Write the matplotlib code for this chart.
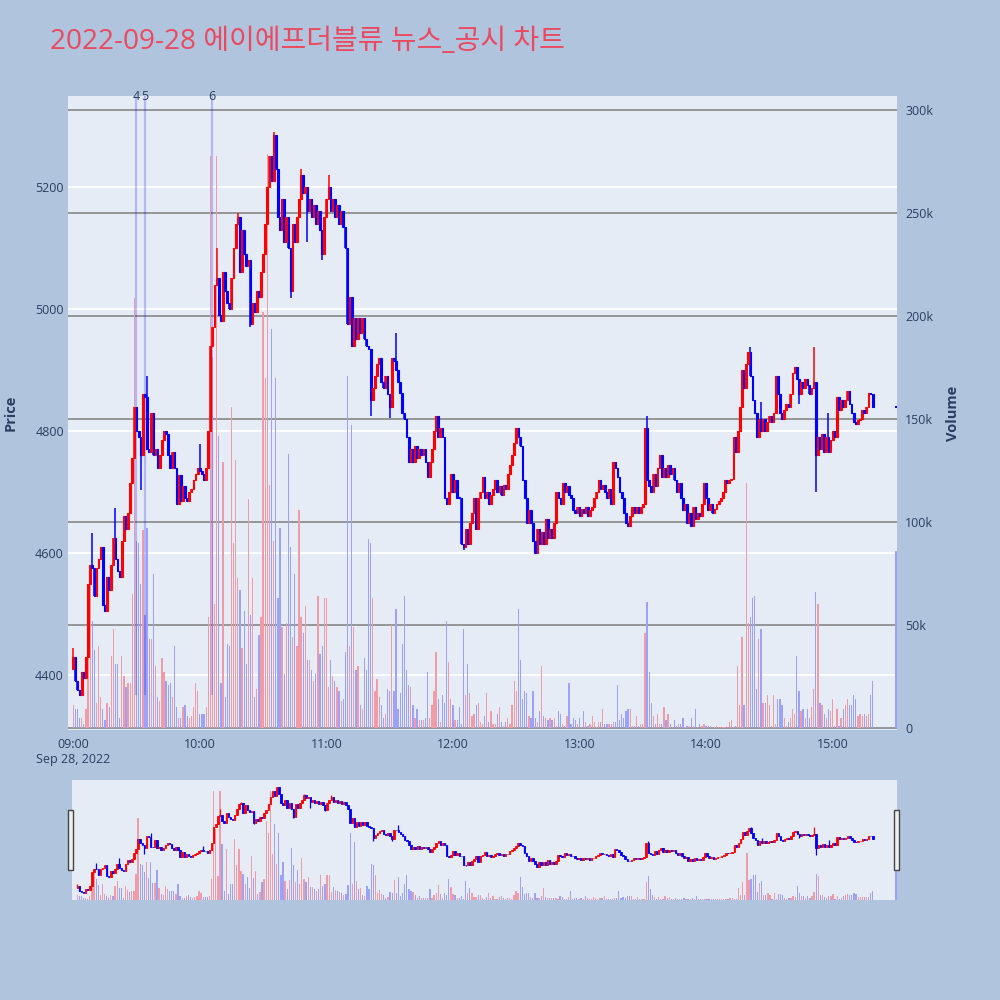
import matplotlib
matplotlib.use("Agg")
import matplotlib.pyplot as plt
import matplotlib.transforms as mtransforms
from matplotlib.patches import Rectangle
import numpy as np

# chart text
title = "2022-09-28 에이에프더블류 뉴스_공시 차트"

# one-minute candles from 09:00 (close of each minute, open = previous close)
first_open = 4410
close = [
    4430, 4390, 4375, 4368, 4405, 4395, 4430, 4550, 4580, 4575,
    4530, 4575, 4590, 4610, 4515, 4505, 4560, 4540, 4580, 4625,
    4590, 4570, 4560, 4620, 4660, 4640, 4665, 4715, 4755, 4840,
    4800, 4790, 4760, 4860, 4855, 4770, 4765, 4830, 4760, 4770,
    4740, 4760, 4785, 4800, 4795, 4760, 4740, 4765, 4740, 4680,
    4728, 4685, 4710, 4690, 4685, 4700, 4705, 4720, 4730, 4740,
    4735, 4730, 4720, 4740, 4800, 4940, 4970, 5040, 5050, 4990,
    4980, 5060, 5030, 5010, 5000, 5050, 5100, 5140, 5150, 5060,
    5130, 5090, 5070, 5080, 4975, 5010, 4995, 5030, 5020, 5060,
    5090, 5140, 5200, 5250, 5210, 5285, 5230, 5150, 5130, 5180,
    5110, 5150, 5100, 5030, 5140, 5110, 5150, 5180, 5220, 5190,
    5200, 5160, 5180, 5150, 5170, 5140, 5160, 5130, 5090, 5150,
    5180, 5200, 5160, 5180, 5150, 5170, 5140, 5160, 5135, 5100,
    4975, 5020, 4940, 4985, 4950, 4985, 4960, 4985, 4950, 4940,
    4935, 4850, 4870, 4890, 4910, 4920, 4880, 4870, 4890, 4860,
    4840, 4920, 4915, 4900, 4880, 4862, 4830, 4820, 4790, 4750,
    4770, 4750, 4775, 4755, 4770, 4760, 4770, 4750, 4725, 4750,
    4770, 4800, 4825, 4790, 4805, 4790, 4690, 4680, 4700, 4730,
    4700, 4720, 4690, 4690, 4615, 4610, 4640, 4615, 4650, 4665,
    4690, 4640, 4690, 4700, 4725, 4690, 4700, 4680, 4695, 4705,
    4720, 4700, 4710, 4695, 4712, 4705, 4730, 4745, 4760, 4780,
    4805, 4790, 4775, 4720, 4690, 4650, 4670, 4650, 4620, 4600,
    4640, 4615, 4635, 4615, 4655, 4625, 4640, 4625, 4650, 4700,
    4690, 4680, 4715, 4700, 4710, 4695, 4690, 4670, 4665, 4675,
    4660, 4672, 4665, 4676, 4660, 4670, 4675, 4690, 4700, 4720,
    4705, 4712, 4700, 4690, 4705, 4680, 4750, 4740, 4725, 4700,
    4690, 4665, 4650, 4645, 4660, 4675, 4665, 4675, 4665, 4675,
    4680, 4805, 4720, 4710, 4700, 4730, 4710, 4740, 4760, 4725,
    4740, 4725, 4745, 4730, 4740, 4720, 4700, 4715, 4690, 4670,
    4680, 4650, 4665, 4645, 4675, 4655, 4665, 4660, 4680, 4715,
    4690, 4670, 4680, 4665, 4672, 4680, 4685, 4690, 4700, 4720,
    4715, 4720, 4722, 4790, 4765, 4800, 4840, 4900, 4870, 4910,
    4930, 4890, 4850, 4830, 4790, 4820, 4800, 4820, 4800, 4815,
    4825, 4815, 4830, 4890, 4860, 4830, 4820, 4835, 4845, 4840,
    4860, 4895, 4905, 4885, 4860, 4880, 4870, 4885, 4875, 4860,
    4870, 4880, 4760, 4790, 4770, 4795, 4765, 4790, 4765, 4785,
    4800, 4790, 4855, 4835, 4850, 4840, 4850, 4865, 4845, 4830,
    4815, 4812, 4818, 4820, 4835, 4830, 4840, 4862, 4860, 4840,
]

# wicks that reach beyond the bodies (minute index: price)
spike_high = {0: 4445, 9: 4633, 20: 4674, 35: 4890, 60: 4778, 68: 5100, 78: 5157,
              95: 5290, 108: 5230, 121: 5220, 153: 4960, 272: 4825, 321: 4938,
              326: 4848, 351: 4938, 358: 4829}
spike_low = {32: 4704, 84: 4970, 103: 5018, 111: 5110, 118: 5080, 141: 4824,
             150: 4822, 185: 4605, 344: 4845, 352: 4700}

# volume per minute, thousands of shares
volume_k = [
    11, 9, 9, 5, 5, 2, 9, 39, 79, 52,
    38, 12, 40, 15, 9, 4, 12, 10, 35, 48,
    31, 31, 5, 35, 25, 20, 22, 22, 65, 209,
    91, 90, 70, 96, 55, 97, 43, 43, 75, 30,
    15, 13, 34, 27, 23, 21, 22, 15, 40, 10,
    5, 5, 10, 11, 6, 5, 6, 10, 22, 18,
    7, 7, 7, 10, 54, 278, 180, 60, 278, 142,
    22, 129, 15, 41, 40, 156, 90, 130, 73, 67,
    39, 57, 31, 111, 55, 73, 15, 19, 45, 54,
    202, 170, 279, 118, 194, 91, 170, 63, 97, 49,
    26, 51, 133, 88, 44, 75, 40, 106, 54, 46,
    59, 33, 33, 28, 23, 26, 64, 36, 40, 63,
    63, 20, 33, 25, 23, 20, 18, 13, 14, 37,
    171, 40, 147, 49, 28, 30, 11, 9, 34, 28,
    92, 90, 63, 18, 24, 15, 11, 5, 7, 19,
    18, 50, 18, 58, 9, 17, 41, 64, 28, 21,
    20, 11, 5, 9, 4, 4, 4, 5, 27, 5,
    11, 18, 37, 14, 3, 16, 12, 52, 32, 14,
    11, 4, 4, 10, 2, 48, 16, 31, 17, 6,
    7, 11, 12, 3, 2, 6, 17, 3, 8, 2,
    2, 7, 10, 3, 1, 3, 5, 2, 11, 23,
    18, 58, 33, 14, 18, 17, 6, 5, 18, 5,
    3, 8, 30, 6, 5, 4, 5, 4, 5, 1,
    8, 7, 2, 1, 6, 22, 2, 5, 4, 2,
    5, 0.5, 8, 3, 1, 2, 6, 3, 0.5, 3,
    3, 9, 2, 2, 2, 2, 3, 3, 21, 4,
    7, 5, 8, 9, 9, 1, 1, 6, 1, 2,
    2, 46, 61, 27, 12, 6, 2, 7, 2, 2,
    10, 4, 7, 2, 0.5, 4, 1, 2, 2, 5,
    0.5, 1, 1, 5, 1, 9, 0.5, 2, 1, 2,
    1, 1, 1, 0.5, 0.5, 1, 0.5, 0.5, 0.5, 0.5,
    0.5, 3, 4, 0.5, 1, 30, 11, 44, 11, 119,
    51, 54, 63, 64, 19, 43, 48, 12, 12, 16,
    11, 1, 16, 2, 14, 14, 11, 5, 1, 3,
    5, 9, 7, 35, 18, 8, 9, 5, 9, 5,
    10, 19, 66, 60, 12, 11, 7, 5, 9, 8,
    14, 1, 9, 1, 5, 9, 11, 14, 11, 11,
    16, 14, 6, 7, 6, 7, 6, 7, 16, 23,
]

# closing auction at 15:30
auction_minute = 390
auction_price = 4840
auction_volume_k = 86

# news markers
news_minutes = [29.7, 33.9, 65.7]
news_labels = ["4", "5", "6"]

tick_minutes = [0, 60, 120, 180, 240, 300, 360]
tick_labels = ["09:00\nSep 28, 2022", "10:00", "11:00", "12:00", "13:00", "14:00", "15:00"]
price_ticks = [4400, 4600, 4800, 5000, 5200]
volume_ticks = [0, 50000, 100000, 150000, 200000, 250000, 300000]
volume_tick_labels = ["0", "50k", "100k", "150k", "200k", "250k", "300k"]

assert len(close) == len(volume_k), (len(close), len(volume_k))

PAPER = "#B0C4DE"
PLOT_BG = "#E5ECF6"
TXT = "#2a3f5f"
UP, DOWN = "#FF0000", "#0000FF"
UP_VOL, DOWN_VOL = "#F09CA8", "#9CA2F8"   # red / blue at ~33% over the plot background

plt.rcParams['font.family'] = ['Open Sans', 'DejaVu Sans']

close = np.array(close, dtype=float)
opens = np.concatenate([[first_open], close[:-1]])
x = np.arange(len(close))
highs = np.maximum(opens, close)
lows = np.minimum(opens, close)
for k, v in spike_high.items():
    highs[k] = max(highs[k], v)
for k, v in spike_low.items():
    lows[k] = min(lows[k], v)
up = close > opens
ccol = np.where(up, UP, DOWN)
vcol = np.where(up, UP_VOL, DOWN_VOL)
vol = np.array(volume_k) * 1000

xlim = (-2.5, 390.5)
plim = (4310, 5349)
vlim = (-1000, 307000)


def draw_candles(ax, body_w, wick_lw, edge_lw, min_h):
    ax.vlines(x, lows, highs, colors=ccol, lw=wick_lw, zorder=3)
    ax.bar(x, np.maximum(np.abs(close - opens), min_h), bottom=np.minimum(opens, close),
           width=body_w, color=ccol, edgecolor=ccol, lw=edge_lw, zorder=3)
    ax.hlines(auction_price, auction_minute - 0.6, auction_minute + 0.6, colors=DOWN, lw=1.5, zorder=3)


def draw_volume(ax, bar_w):
    ax.bar(x, vol, width=bar_w, color=vcol, lw=0, zorder=1, antialiased=False)
    ax.bar([auction_minute], [auction_volume_k * 1000], width=bar_w, color=DOWN_VOL,
           lw=0, zorder=1, antialiased=False)


fig = plt.figure(figsize=(10, 10), dpi=100, facecolor=PAPER)

rect = [0.068, 0.27, 0.829, 0.634]
axv = fig.add_axes(rect, facecolor=PLOT_BG)
axp = fig.add_axes(rect, sharex=axv)
axp.patch.set_visible(False)

axv.set_xlim(*xlim)
axv.set_ylim(*vlim)
axp.set_ylim(*plim)

# grid: price lines white, volume lines grey, both under the traces
axv.set_axisbelow(True)
axv.set_yticks(volume_ticks)
axv.set_yticklabels(volume_tick_labels)
axv.yaxis.tick_right()
axv.grid(axis="y", color="#8e8e8e", lw=1.3, zorder=0.5)
axv.grid(axis="x", visible=False)
tr = mtransforms.blended_transform_factory(axv.transAxes, axp.transData)
for p in price_ticks:
    axv.plot([0, 1], [p, p], transform=tr, color="white", lw=1.3, zorder=0.4)

draw_volume(axv, 0.6)

# news lines, from the day's low up to the top of the plot
trn = mtransforms.blended_transform_factory(axp.transData, axp.transAxes)
day_low = lows.min()
for m, lab in zip(news_minutes, news_labels):
    axp.vlines(m, day_low, plim[1], colors=DOWN, alpha=0.22, lw=1.6, zorder=1.5)
    axp.text(m, 1.0, lab, transform=trn, ha="center", va="center", fontsize=9, color=TXT)

draw_candles(axp, 0.8, 1.1, 0.8, 2.0)

axp.set_yticks(price_ticks)
axp.yaxis.tick_left()
axp.set_xticks(tick_minutes)
axp.set_xticklabels(tick_labels)
axp.tick_params(axis="x", length=0, pad=6, labelsize=9, labelcolor=TXT)
axp.tick_params(axis="y", length=0, pad=3, labelsize=9, labelcolor=TXT)
axv.tick_params(axis="y", length=0, pad=6, labelsize=9, labelcolor=TXT)
axv.tick_params(axis="x", length=0, labelbottom=False)
for a in (axv, axp):
    for s in a.spines.values():
        s.set_visible(False)
axp.grid(False)

fig.text(0.011, 0.587, "Price", rotation=90, ha="center", va="center", fontsize=10.5,
         fontweight="bold", color=TXT)
fig.text(0.953, 0.587, "Volume", rotation=90, ha="center", va="center", fontsize=10.5,
         fontweight="bold", color=TXT)
fig.text(0.05, 0.958, title, fontsize=20.2, color="#EA4A60", ha="left", va="center",
         family=["Open Sans", "Noto Sans CJK KR", "DejaVu Sans"])

# range slider
srect = [0.072, 0.10, 0.825, 0.12]
asv = fig.add_axes(srect, facecolor=PLOT_BG)
asp = fig.add_axes(srect)
asp.patch.set_visible(False)
asv.set_xlim(*xlim)
asp.set_xlim(*xlim)
asv.set_ylim(*vlim)
asp.set_ylim(*plim)
draw_volume(asv, 0.6)
draw_candles(asp, 0.7, 0.9, 0.6, 4.0)
for a in (asv, asp):
    a.set_xticks([])
    a.set_yticks([])
    for s in a.spines.values():
        s.set_visible(False)

for hx in (0.068, 0.894):
    fig.patches.append(Rectangle((hx, 0.13), 0.0045, 0.06, transform=fig.transFigure,
                                 facecolor="#eeeeee", edgecolor="#444444", lw=1))

fig.savefig("out.png", dpi=100, facecolor=PAPER)
